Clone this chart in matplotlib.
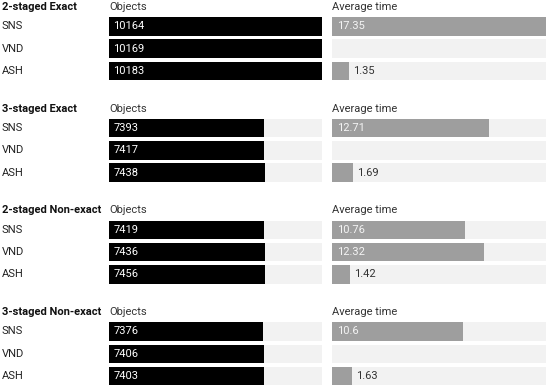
import numpy as np
import matplotlib
matplotlib.use("Agg")
import matplotlib.pyplot as plt
from matplotlib.transforms import blended_transform_factory

plt.rcParams['font.family'] = ['Roboto', 'DejaVu Sans']

# data
groups = ['2-staged Exact', '3-staged Exact', '2-staged Non-exact', '3-staged Non-exact']
methods = ['SNS', 'VND', 'ASH']
objects_2ex = [10164, 10169, 10183]
objects_3ex = [7393, 7417, 7438]
objects_2nx = [7419, 7436, 7456]
objects_3nx = [7376, 7406, 7403]
time_2ex = [17.35, np.nan, 1.35]
time_3ex = [12.71, np.nan, 1.69]
time_2nx = [10.76, 12.32, 1.42]
time_3nx = [10.6, np.nan, 1.63]

objects = [objects_2ex, objects_3ex, objects_2nx, objects_3nx]
times = [time_2ex, time_3ex, time_2nx, time_3nx]
obj_max = max(max(o) for o in objects)
time_max = np.nanmax([np.nanmax(t) for t in times])

W, H = 550, 389
fig = plt.figure(figsize=(W / 100, H / 100), dpi=100)


def rect(x0, y0, w, h):
    return [x0 / W, 1 - (y0 + h) / H, w / W, h / H]


TRACK = '#f2f2f2'
GRAY = '#9e9e9e'
row_h = 22.3
bar_h = 18.5 / row_h

for g, name in enumerate(groups):
    top = 7 + 101.7 * g  # header baseline-ish center
    fig.text(2 / W, 1 - top / H, name, fontsize=8, fontweight='bold',
             color='#111111', va='center', ha='left')
    fig.text(109 / W, 1 - top / H, 'Objects', fontsize=8,
             color='#333333', va='center', ha='left')
    fig.text(332 / W, 1 - top / H, 'Average time', fontsize=8,
             color='#333333', va='center', ha='left')

    ax_o = fig.add_axes(rect(109, top + 8.2, 213, 3 * row_h))
    ax_t = fig.add_axes(rect(332, top + 8.2, 214, 3 * row_h))
    y = np.arange(len(methods))

    # objects
    ax_o.barh(y, [obj_max] * 3, height=bar_h, color=TRACK, lw=0)
    ax_o.barh(y, objects[g], height=bar_h, color='black', lw=0)
    ax_o.set_xlim(0, obj_max)
    for i, v in enumerate(objects[g]):
        ax_o.text(obj_max * 0.02, i, str(v), color='white', fontsize=8,
                  va='center', ha='left')

    # average time
    ax_t.barh(y, [time_max] * 3, height=bar_h, color=TRACK, lw=0)
    ax_t.barh(y, np.nan_to_num(times[g]), height=bar_h, color=GRAY, lw=0)
    ax_t.set_xlim(0, time_max)
    for i, v in enumerate(times[g]):
        if np.isnan(v):
            continue
        if v / time_max > 0.2:
            ax_t.text(time_max * 0.025, i, f'{v:g}', color='#f4f4f4',
                      fontsize=8, va='center', ha='left')
        else:
            ax_t.text(v + time_max * 0.02, i, f'{v:g}', color='#333333',
                      fontsize=8, va='center', ha='left')

    for ax in (ax_o, ax_t):
        ax.set_ylim(2.5, -0.5)
        ax.axis('off')

    tr = blended_transform_factory(fig.transFigure, ax_o.transData)
    for i, m in enumerate(methods):
        ax_o.text(2 / W, i, m, transform=tr, fontsize=8, color='#222222',
                  va='center', ha='left')

fig.savefig('out.png', dpi=100)
